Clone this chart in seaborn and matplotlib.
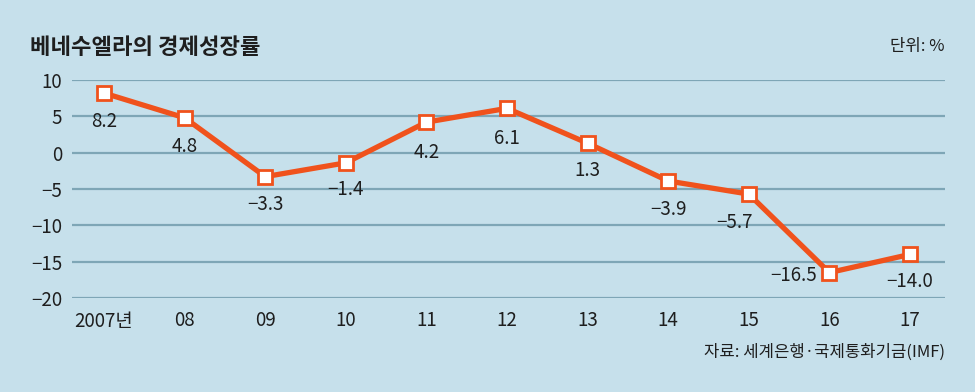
import matplotlib
matplotlib.use("Agg")
import matplotlib.pyplot as plt
import seaborn as sns
import pandas as pd

years = ["2007년", "08", "09", "10", "11", "12", "13", "14", "15", "16", "17"]
growth = [8.2, 4.8, -3.3, -1.4, 4.2, 6.1, 1.3, -3.9, -5.7, -16.5, -14.0]
value_labels = ["8.2", "4.8", "−3.3", "−1.4", "4.2", "6.1", "1.3", "−3.9", "−5.7", "−16.5", "−14.0"]
yticks = [10, 5, 0, -5, -10, -15, -20]
ytick_labels = ["10", "5", "0", "−5", "−10", "−15", "−20"]

title = "베네수엘라의 경제성장률"
unit = "단위: %"
source = "자료: 세계은행·국제통화기금(IMF)"

sns.set_theme(style="white")
plt.rcParams["font.family"] = ["Noto Sans CJK KR", "DejaVu Sans"]
plt.rcParams["axes.unicode_minus"] = True

BG = "#c6e0eb"
LINE = "#f0521c"
GRID = "#7ea6b6"
TXT = "#1e1e1e"

df = pd.DataFrame({"x": range(len(years)), "growth": growth})

fig = plt.figure(figsize=(9.75, 3.92), dpi=100, facecolor=BG)
ax = fig.add_axes([72 / 975, 1 - 298 / 392, (945 - 72) / 975, (298 - 80) / 392])
ax.set_facecolor(BG)

for v in yticks:
    ax.axhline(v, color=GRID, lw=1.6, zorder=1)

sns.lineplot(data=df, x="x", y="growth", ax=ax, color=LINE, lw=3.8,
             marker="s", markersize=10, markerfacecolor="white",
             markeredgecolor=LINE, markeredgewidth=2.0, zorder=3, clip_on=False)

# label offsets in pixels (dx, dy) relative to the point
offsets = [(0, -28), (0, -29), (0, -28), (0, -27), (0, -30), (0, -30),
           (0, -27), (0, -28), (-14, -28), (-12, -3), (0, -27)]
aligns = ["center"] * 9 + ["right", "center"]
for i, (v, lab) in enumerate(zip(growth, value_labels)):
    dx, dy = offsets[i]
    ax.annotate(lab, (i, v), xytext=(dx * 0.72, dy * 0.72), textcoords="offset points",
                ha=aligns[i], va="center", fontsize=13.5, color=TXT, zorder=4)

ax.set_xlim(-0.397, 10.434)
ax.set_ylim(-20, 10)
ax.set_xticks(range(len(years)))
ax.set_xticklabels(years)
ax.set_yticks(yticks)
ax.set_yticklabels(ytick_labels)
ax.tick_params(axis="x", length=0, pad=9, labelsize=13.5, labelcolor=TXT)
ax.tick_params(axis="y", length=0, pad=7, labelsize=13.5, labelcolor=TXT)
ax.set_xlabel("")
ax.set_ylabel("")
for s in ax.spines.values():
    s.set_visible(False)

fig.text(30 / 975, 1 - 47 / 392, title, fontsize=16, fontweight="bold",
         color=TXT, ha="left", va="center")
fig.text(945 / 975, 1 - 47 / 392, unit, fontsize=12, color=TXT, ha="right", va="center")
fig.text(945 / 975, 1 - 352 / 392, source, fontsize=12, color=TXT, ha="right", va="center")

fig.savefig("out.png", dpi=100, facecolor=BG)
